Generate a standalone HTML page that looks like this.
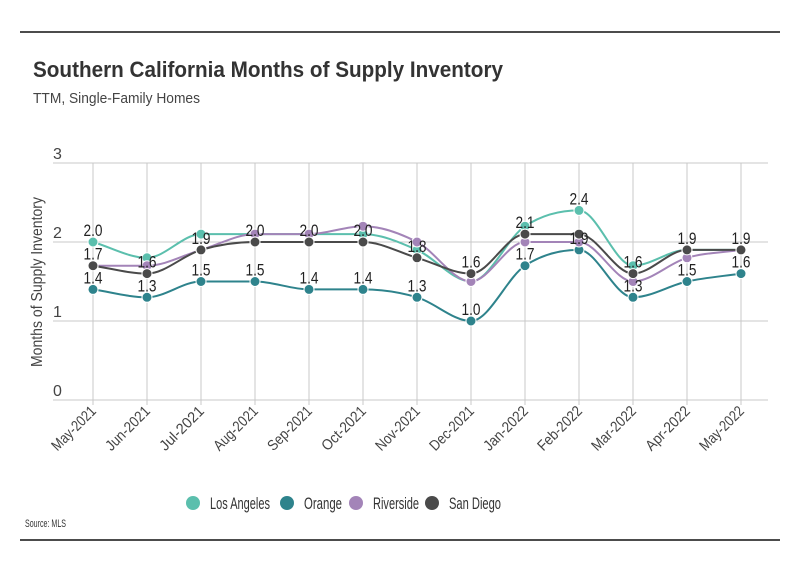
<!DOCTYPE html>
<html><head><meta charset="utf-8"><style>
body{margin:0;background:#fff;width:800px;height:575px;overflow:hidden;font-family:"Liberation Sans",sans-serif;}
svg text{font-family:"Liberation Sans",sans-serif;}
</style></head><body>
<svg id="chart" width="800" height="575">
<line x1="20" y1="32" x2="780" y2="32" stroke="#111" stroke-width="1.5"/>
<text x="33" y="77" font-size="22" font-weight="bold" fill="#333" textLength="470" lengthAdjust="spacingAndGlyphs">Southern California Months of Supply Inventory</text>
<text x="33" y="103" font-size="15" fill="#444" textLength="167" lengthAdjust="spacingAndGlyphs">TTM, Single-Family Homes</text>
<text x="42" y="282" font-size="16" fill="#444" transform="rotate(-90 42 282)" text-anchor="middle" textLength="170" lengthAdjust="spacingAndGlyphs">Months of Supply Inventory</text>
<g id="grid"></g><g id="lines"></g><g id="pts"></g><g id="lbls"></g><g id="xt"></g>
<g id="legend"></g>
<text x="25" y="527" font-size="11" fill="#333" textLength="41" lengthAdjust="spacingAndGlyphs">Source: MLS</text>
<line x1="20" y1="540" x2="780" y2="540" stroke="#111" stroke-width="1.5"/>
</svg>
<script>
const categories=["May-2021","Jun-2021","Jul-2021","Aug-2021","Sep-2021","Oct-2021","Nov-2021","Dec-2021","Jan-2022","Feb-2022","Mar-2022","Apr-2022","May-2022"];
const losAngeles=[2.0,1.8,2.1,2.1,2.1,2.1,1.9,1.5,2.2,2.4,1.7,1.9,1.9];
const orange=[1.4,1.3,1.5,1.5,1.4,1.4,1.3,1.0,1.7,1.9,1.3,1.5,1.6];
const riverside=[1.7,1.7,1.9,2.1,2.1,2.2,2.0,1.5,2.0,2.0,1.5,1.8,1.9];
const sanDiego=[1.7,1.6,1.9,2.0,2.0,2.0,1.8,1.6,2.1,2.1,1.6,1.9,1.9];
const yTicks=[0,1,2,3];
const seriesNames=["Los Angeles","Orange","Riverside","San Diego"];
const laLabelIdx=[0,9];
const sdLabelIdx=[0,1,2,3,4,5,6,7,8,10,11,12];

const NS="http://www.w3.org/2000/svg";
const x0=93,x1=741,yb=400,yt=163,ymax=3;
const X=i=>x0+(x1-x0)*i/(categories.length-1);
const Y=v=>yb-(yb-yt)*v/ymax;
function mk(tag,attrs,parent){const e=document.createElementNS(NS,tag);for(const k in attrs)e.setAttribute(k,attrs[k]);document.getElementById(parent).appendChild(e);return e;}
yTicks.forEach(t=>{
 const l=mk('line',{x1:53,x2:768,y1:Y(t),y2:Y(t),stroke:'#c8c8c8','stroke-width':1},'grid');
 
 
 const tx=mk('text',{x:53,y:Y(t)-4,'font-size':16,fill:'#444','text-anchor':'start'},'grid');tx.textContent=t;
 
 
});
categories.forEach((c,i)=>{
 const l=mk('line',{x1:X(i),x2:X(i),y1:yt,y2:yb+5,stroke:'#c8c8c8','stroke-width':1},'grid');
 
 
 const t=mk('text',{x:X(i)+4,y:yb+12,'font-size':15,fill:'#444','text-anchor':'end',textLength:56,lengthAdjust:'spacingAndGlyphs',transform:`rotate(-45 ${X(i)+4} ${yb+12})`},'xt');t.textContent=c;
 
 
});
function path(vals){
 const n=vals.length,xs=vals.map((v,i)=>X(i)),ys=vals.map(Y);
 const d=[],m=[];
 for(let i=0;i<n-1;i++)d.push((ys[i+1]-ys[i])/(xs[i+1]-xs[i]));
 for(let i=0;i<n;i++){if(i==0)m.push(d[0]);else if(i==n-1)m.push(d[n-2]);else m.push(d[i-1]*d[i]<=0?0:(d[i-1]+d[i])/2);}
 for(let i=0;i<n-1;i++){if(d[i]==0){m[i]=0;m[i+1]=0;continue;}const a=m[i]/d[i],b=m[i+1]/d[i],s=a*a+b*b;if(s>9){const t=3/Math.sqrt(s);m[i]=t*a*d[i];m[i+1]=t*b*d[i];}}
 let p=`M${xs[0]},${ys[0]}`;
 for(let i=0;i<n-1;i++){const h=(xs[i+1]-xs[i])/3;p+=` C${xs[i]+h},${ys[i]+m[i]*h} ${xs[i+1]-h},${ys[i+1]-m[i+1]*h} ${xs[i+1]},${ys[i+1]}`;}
 return p;
}
const all=[[losAngeles,'#5bbfad','los-angeles'],[orange,'#2e838c','orange'],[riverside,'#a384b8','riverside'],[sanDiego,'#4a4a4a','san-diego']];
all.forEach(([vals,col,nm])=>{
 const p=mk('path',{d:path(vals),fill:'none',stroke:col,'stroke-width':2},'lines');
 
 
 vals.forEach((v,i)=>{
  const c=mk('circle',{cx:X(i),cy:Y(v),r:5,fill:col,stroke:'#fff','stroke-width':1},'pts');
  
  
 });
});
function lab(vals,idx,nm){idx.forEach(i=>{const t=mk('text',{x:X(i),y:Y(vals[i])-6,'font-size':17,fill:'#222','text-anchor':'middle',textLength:19,lengthAdjust:'spacingAndGlyphs'},'lbls');t.textContent=vals[i].toFixed(1);
 
 });}
lab(sanDiego,sdLabelIdx,'san-diego');
lab(orange,categories.map((c,i)=>i),'orange');
lab(losAngeles,laLabelIdx,'los-angeles');
const lx=[193,287,356,432];
const lw=[60,38,46,52];
seriesNames.forEach((s,k)=>{
 const c=mk('circle',{cx:lx[k],cy:503,r:7,fill:all[k][1]},'legend');
 
 
 const t=mk('text',{x:lx[k]+17,y:509,'font-size':17,fill:'#333',textLength:lw[k],lengthAdjust:'spacingAndGlyphs'},'legend');t.textContent=s;
 
 
});
</script>
</body></html>
